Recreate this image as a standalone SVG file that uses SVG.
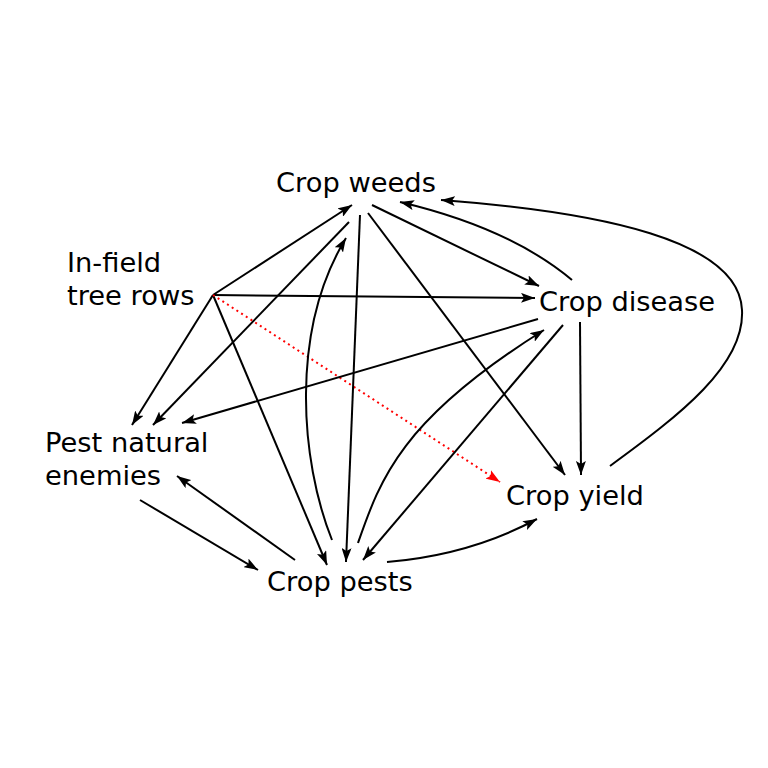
<svg xmlns="http://www.w3.org/2000/svg" width="768" height="768" viewBox="0 0 768 768">
<style>
text{font-family:"DejaVu Sans","Verdana",sans-serif;font-size:27.3px;fill:#000}
.e{fill:none;stroke:#000;stroke-width:2;marker-end:url(#a)}
.r{fill:none;stroke:#ff0000;stroke-width:2;stroke-dasharray:2 3.6;marker-end:url(#ar)}
</style>
<defs>
<marker id="a" viewBox="0 0 14 10" refX="14" refY="5" markerWidth="14" markerHeight="10" orient="auto" markerUnits="userSpaceOnUse"><path d="M0,0 L14,5 L0,10 L3,5 z" fill="#000"/></marker>
<marker id="ar" viewBox="0 0 14 10" refX="14" refY="5" markerWidth="14" markerHeight="10" orient="auto" markerUnits="userSpaceOnUse"><path d="M0,0 L14,5 L0,10 L3,5 z" fill="#ff0000"/></marker>
</defs>
<rect width="768" height="768" fill="#fff"/>
<g id="connectors">
<path class="e" d="M213,295 L352,205"/>
<path class="e" d="M213,295 L535,298"/>
<path class="e" d="M213,295 L132,425"/>
<path class="e" d="M213,295 L327,565"/>
<path class="r" d="M213,295 L500,482"/>
<path class="e" d="M349,222 L153,425"/>
<path class="e" d="M332,540 C300,460 290,330 346,238"/>
<path class="e" d="M360,215 L346,562"/>
<path class="e" d="M368,213 L565,475"/>
<path class="e" d="M372,205 L539,286"/>
<path class="e" d="M572,280 Q510,228 400,202"/>
<path class="e" d="M610,466 C680,415 745,365 742,310 C739,240 600,212 441,200"/>
<path class="e" d="M538,319 L182,423"/>
<path class="e" d="M358,543 C380,480 400,420 544,330"/>
<path class="e" d="M563,325 L363,560"/>
<path class="e" d="M580,322 L581,475"/>
<path class="e" d="M387,562 Q470,555 537,519"/>
<path class="e" d="M140,500 L258,570"/>
<path class="e" d="M295,560 L177,476"/>
</g>
<g id="crop-weeds"><text x="276" y="192">Crop weeds</text></g>
<g id="in-field-tree-rows"><text x="67" y="272">In-field</text><text x="67" y="305">tree rows</text></g>
<g id="crop-disease"><text x="539" y="311">Crop disease</text></g>
<g id="pest-natural-enemies"><text x="45" y="452">Pest natural</text><text x="45" y="485">enemies</text></g>
<g id="crop-yield"><text x="506" y="505">Crop yield</text></g>
<g id="crop-pests"><text x="267" y="591">Crop pests</text></g>
</svg>
